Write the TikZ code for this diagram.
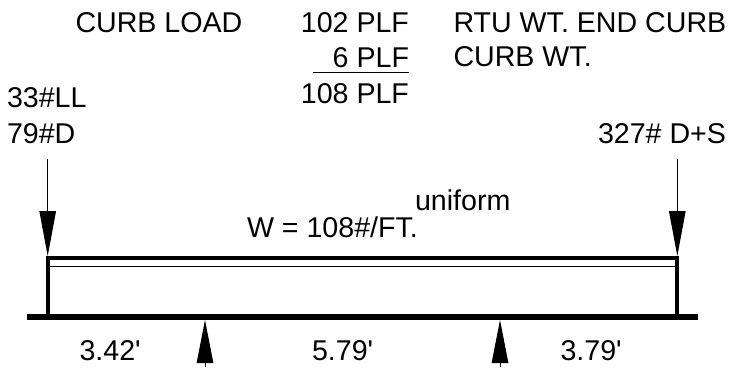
\documentclass[tikz,border=0pt]{standalone}
\usepackage{fontspec}
\newfontfamily\plainf{Liberation Sans}
\setmainfont{Liberation Sans}
\usetikzlibrary{arrows.meta}
\tikzset{
  x=1pt,y=-1pt,
  lbl/.style={inner sep=0pt,outer sep=0pt,font=\plainf\fontsize{28.6}{30}\selectfont,text=black,anchor=base west},
  lblr/.style={lbl,anchor=base east},
  beam/.style={line width=3.7pt,line cap=butt},
  thinbeam/.style={line width=1.2pt},
  column/.style={line width=4pt},
  floorbar/.style={line width=6pt},
  rule/.style={line width=1pt},
  force/.style={line width=1pt,-{Triangle[length=45pt,width=16.5pt]}},
  react/.style={line width=1pt,-{Triangle[length=43pt,width=16.5pt]}}
}
\begin{document}
\begin{tikzpicture}
\useasboundingbox (0,0) rectangle (733,367);
\node[lbl] (curb) at (75.5,32) {CURB LOAD};
\node[lblr] (a) at (409,32) {102 PLF};
\node[lblr] (b) at (409,67) {6 PLF};
\node[lblr] (c) at (409,103) {108 PLF};
\node[lbl] (d) at (453.5,32) {RTU WT. END CURB};
\node[lbl] (e) at (453.5,66.5) {CURB WT.};
\node[lbl] (ll) at (7,107) {33\#LL};
\node[lbl] (dd) at (7,143) {79\#D};
\node[lblr] (ds) at (726,143) {327\# D+S};
\node[lbl] (u) at (415,210) {uniform};
\node[lbl] (w) at (247,237) {W = 108\#/FT.};
\node[lbl] (s1) at (79.5,360) {3.42'};
\node[lbl] (s2) at (312,360) {5.79'};
\node[lbl] (s3) at (560.5,360) {3.79'};
\coordinate (r1) at (313,72.7); \coordinate (r2) at (409,72.7);
\draw[rule] (r1) -- (r2);
\coordinate (tl) at (47.7,257.7); \coordinate (tr) at (677.3,257.7);
\coordinate (ml) at (47.7,266.7); \coordinate (mr) at (677.3,266.7);
\coordinate (bl) at (47.7,316.7); \coordinate (br) at (677.3,316.7);
\coordinate (fl) at (27,316.7); \coordinate (fr) at (697.5,316.7);
\draw[beam] ([xshift=-2pt]tl) -- ([xshift=2pt]tr);
\draw[thinbeam] (ml) -- (mr);
\draw[column] ([yshift=-1.8pt]tl) -- (bl);
\draw[column] ([yshift=-1.8pt]tr) -- (br);
\draw[floorbar] (fl) -- (fr);
\coordinate (f1s) at (47.7,159); \coordinate (f1e) at (47.7,256);
\coordinate (f2s) at (677.3,159); \coordinate (f2e) at (677.3,256);
\draw[force] (f1s) -- (f1e);
\draw[force] (f2s) -- (f2e);
\coordinate (s1a) at (205,367); \coordinate (s1b) at (205,320);
\coordinate (s2a) at (500,367); \coordinate (s2b) at (500,320);
\draw[react] (s1a) -- (s1b);
\draw[react] (s2a) -- (s2b);
\end{tikzpicture}
\end{document}
